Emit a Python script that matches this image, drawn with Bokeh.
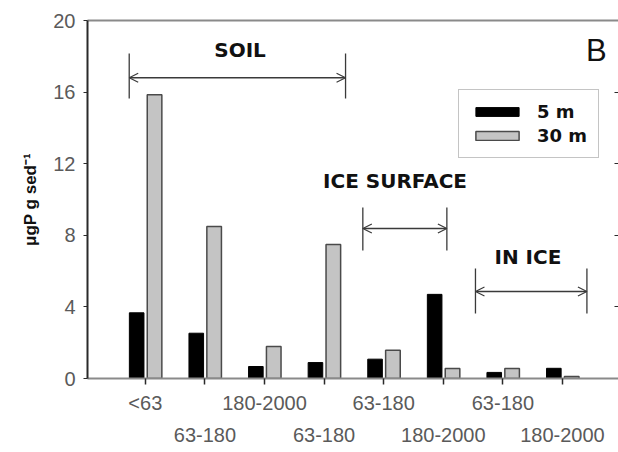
from bokeh.plotting import figure
from bokeh.models import (Range1d, LinearAxis, FixedTicker, ColumnDataSource, Arrow,
                          OpenHead, Label, Legend, LegendItem)
from bokeh.transform import dodge
from bokeh.embed import file_html
from bokeh.resources import INLINE

# ---- data ----
positions = [1, 2, 3, 4, 5, 6, 7, 8]
size_labels = ["<63", "63-180", "180-2000", "63-180", "63-180", "180-2000", "63-180", "180-2000"]
depth_5m = [3.67, 2.53, 0.67, 0.89, 1.08, 4.70, 0.34, 0.57]
depth_30m = [15.85, 8.49, 1.79, 7.49, 1.58, 0.56, 0.56, 0.11]
y_ticks = [0, 4, 8, 12, 16, 20]
inner_ticks = [4, 8, 12, 16]

src = ColumnDataSource(dict(x=positions, a=depth_5m, b=depth_30m))

BOLD = "DejaVu Sans"
REG = "Liberation Sans"

p = figure(width=618, height=452, output_backend="svg", toolbar_location=None,
           x_range=Range1d(0.03, 8.94), y_range=Range1d(0, 20),
           min_border_left=87, min_border_top=20, min_border_right=0, min_border_bottom=74,
           background_fill_color="white", border_fill_color="white")
p.outline_line_color = None
p.grid.visible = False

r1 = p.vbar(x=dodge("x", -0.145, range=p.x_range), top="a", width=0.245, source=src,
            fill_color="black", line_color="black", line_width=1)
r2 = p.vbar(x=dodge("x", 0.155, range=p.x_range), top="b", width=0.245, source=src,
            fill_color="#c4c4c4", line_color="#4a4a4a", line_width=1.5)

# left axis
ya = p.yaxis[0]
ya.ticker = FixedTicker(ticks=y_ticks)
ya.axis_line_color = "#2a2a2a"
ya.axis_line_width = 2
ya.major_tick_line_color = "#2a2a2a"
ya.major_tick_out = 4
ya.major_tick_in = 0
ya.minor_tick_line_color = None
ya.major_label_text_font = REG
ya.major_label_text_font_size = "20px"
ya.major_label_text_color = "#5a5a5a"
ya.major_label_standoff = 8
ya.axis_label = "\u03bcgP g sed\u207b\u00b9"
ya.axis_label_text_font = REG
ya.axis_label_text_font_style = "bold"
ya.axis_label_text_font_size = "17px"
ya.axis_label_text_color = "#111111"
ya.axis_label_standoff = 10

# bottom axis, first row of labels
odd = positions[0::2]
even = positions[1::2]
xa = p.xaxis[0]
xa.ticker = FixedTicker(ticks=odd, minor_ticks=even)
xa.major_label_overrides = {pos: size_labels[pos - 1] for pos in odd}
xa.axis_line_color = "#8a8a8a"
xa.axis_line_width = 2
xa.major_tick_line_color = "#2a2a2a"
xa.minor_tick_line_color = "#2a2a2a"
xa.major_tick_out = 6
xa.major_tick_in = 0
xa.minor_tick_out = 6
xa.minor_tick_in = 0
xa.major_tick_line_width = 1.5
xa.minor_tick_line_width = 1.5
xa.major_label_text_font = REG
xa.major_label_text_font_size = "20px"
xa.major_label_text_color = "#5a5a5a"
xa.major_label_standoff = 7

# bottom axis, second row of labels
xa2 = LinearAxis(ticker=FixedTicker(ticks=even, minor_ticks=[]),
                 major_label_overrides={pos: size_labels[pos - 1] for pos in even},
                 axis_line_color=None, major_tick_line_color=None, minor_tick_line_color=None,
                 major_tick_out=0, major_tick_in=0,
                 major_label_text_font=REG, major_label_text_font_size="20px",
                 major_label_text_color="#5a5a5a", major_label_standoff=11)
p.add_layout(xa2, "below")

# top border (axis line only, no ticks)
ta = LinearAxis(ticker=FixedTicker(ticks=[], minor_ticks=[]), axis_line_color="#8a8a8a",
                axis_line_width=2, major_tick_line_color=None, minor_tick_line_color=None,
                major_tick_out=0, major_tick_in=0, major_label_standoff=0)
p.add_layout(ta, "above")

# right side: inward ticks only
ra = LinearAxis(ticker=FixedTicker(ticks=inner_ticks, minor_ticks=[]), axis_line_color=None,
                major_tick_line_color="#2a2a2a", minor_tick_line_color=None,
                major_tick_out=0, major_tick_in=4, major_label_standoff=0,
                major_label_overrides={t: "" for t in inner_ticks})
p.add_layout(ra, "right")

# legend
leg = Legend(items=[LegendItem(label="5 m", renderers=[r1]),
                    LegendItem(label="30 m", renderers=[r2])],
             location=(371, 220), orientation="vertical",
             label_text_font=BOLD, label_text_font_style="bold", label_text_font_size="18px",
             label_text_color="#111111",
             glyph_width=54, glyph_height=11, label_standoff=13, label_height=20,
             padding=11, spacing=3, margin=0,
             border_line_color="#8a8a8a", border_line_width=1.5,
             background_fill_color="white", background_fill_alpha=1)
p.add_layout(leg)

# group annotations
ann_color = "#3a3a3a"
groups = [
    # text, text_x, text_y, x0, x1, arrow_y, bar_y0, bar_y1
    ("SOIL", 2.59, 18.35, 0.73, 4.36, 16.8, 15.64, 18.15),
    ("ICE SURFACE", 5.19, 11.05, 4.65, 6.06, 8.38, 7.15, 9.55),
    ("IN ICE", 7.42, 6.76, 6.54, 8.41, 4.86, 3.63, 6.15),
]
for text, tx, ty, x0, x1, ay, b0, b1 in groups:
    p.add_layout(Label(x=tx, y=ty, text=text, text_font=BOLD, text_font_style="bold",
                       text_font_size="20px", text_color="#111111",
                       text_align="center", text_baseline="middle"))
    p.add_layout(Arrow(x_start=x0, y_start=ay, x_end=x1, y_end=ay,
                       line_color=ann_color, line_width=1.6,
                       start=OpenHead(size=9, line_color=ann_color, line_width=1.2),
                       end=OpenHead(size=9, line_color=ann_color, line_width=1.2)))
    p.segment(x0=[x0, x1], y0=[b0, b0], x1=[x0, x1], y1=[b1, b1],
              line_color=ann_color, line_width=1.3)

p.add_layout(Label(x=8.57, y=18.3, text="B", text_font=REG, text_font_size="31px",
                   text_color="#111111", text_align="center", text_baseline="middle"))

open("out.html", "w").write(file_html(p, INLINE))
